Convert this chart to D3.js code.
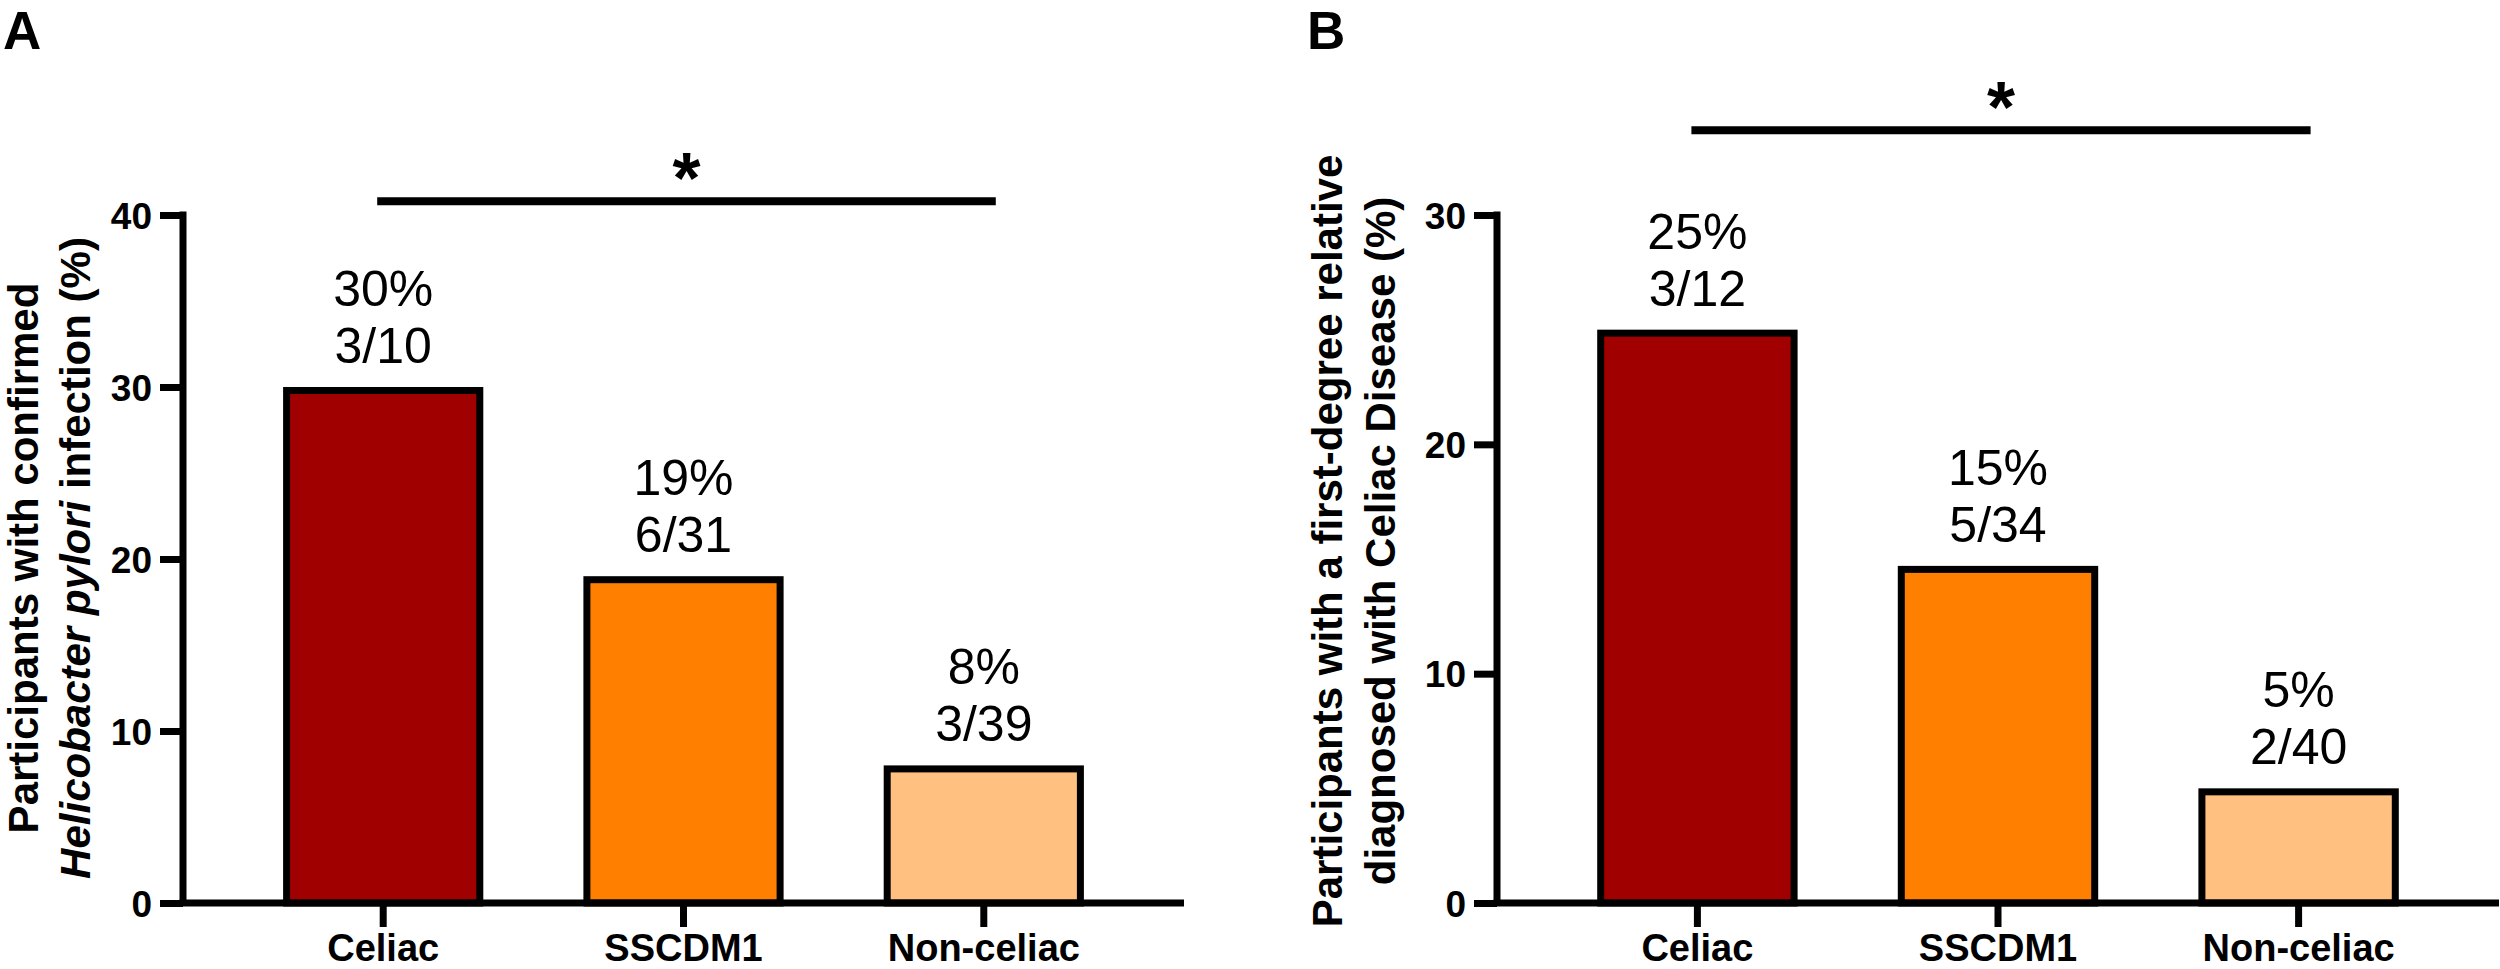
<!DOCTYPE html>
<html>
<head>
<meta charset="utf-8">
<script src="https://cdn.jsdelivr.net/npm/d3@7"></script>
<style>
  html, body { margin: 0; padding: 0; background: #fff; }
  svg text { font-family: 'Liberation Sans', Arial, sans-serif; }
</style>
</head>
<body>
<svg id="chart" width="2500" height="969"></svg>
<script>
// Группы и значения
const groups = ['Celiac', 'SSCDM1', 'Non-celiac']
const barColors = ['#A00000', '#FF8000', '#FFC080']

// Панель A: H. pylori
const pyloriPct = [30, 19, 8]
const pyloriPctLabels = ['30%', '19%', '8%']
const pyloriCounts = ['3/10', '6/31', '3/39']
const pyloriTicks = [0, 10, 20, 30, 40]
const pyloriSig = ['Celiac', 'Non-celiac', '*', 40.8]

// Панель B: родственник первой степени с целиакией
const relativePct = [25, 14.7, 5]
const relativePctLabels = ['25%', '15%', '5%']
const relativeCounts = ['3/12', '5/34', '2/40']
const relativeTicks = [0, 10, 20, 30]
const relativeSig = ['Celiac', 'Non-celiac', '*', 33.7]

const svg = d3.select('#chart')
const SW = 7

const drawPanel = (opt) => {
  const g = svg.append('g')
  const x = d3.scaleBand().domain(groups).range(opt.xRange).padding(1 / 3)
  const y = d3.scaleLinear().domain([0, d3.max(opt.ticks)]).range(opt.yRange)
  const x0 = opt.xRange[0]
  const y0 = y(0)

  // Бары (обводка внутри, верхний край = значение)
  g.selectAll('.bar')
    .data(groups)
    .enter()
    .append('rect')
    .attr('class', 'bar')
    .attr('x', (d) => x(d) + SW / 2)
    .attr('y', (d, i) => y(opt.values[i]) + SW / 2)
    .attr('width', x.bandwidth() - SW)
    .attr('height', (d, i) => y0 - y(opt.values[i]) - SW / 2)
    .attr('fill', (d, i) => barColors[i])
    .attr('stroke', '#000')
    .attr('stroke-width', SW)

  // Ось Y
  const yAxis = g.append('g')
    .attr('transform', `translate(${x0},0)`)
    .call(d3.axisLeft(y).tickValues(opt.ticks).tickSize(23).tickSizeOuter(0).tickPadding(8))
  yAxis.select('.domain').remove()
  yAxis.selectAll('.tick line').attr('stroke', '#000').attr('stroke-width', SW)
  yAxis.selectAll('.tick text')
    .attr('fill', '#000')
    .attr('font-size', '37px')
    .attr('font-weight', 'bold')
    .attr('dy', '0.36em')
  g.append('line')
    .attr('x1', x0).attr('x2', x0)
    .attr('y1', y(d3.max(opt.ticks)) - SW / 2).attr('y2', y0)
    .attr('stroke', '#000').attr('stroke-width', SW)

  // Ось X
  const xAxis = g.append('g')
    .attr('transform', `translate(0,${y0})`)
    .call(d3.axisBottom(x).tickSize(24).tickSizeOuter(0).tickPadding(7))
  xAxis.select('.domain').remove()
  xAxis.selectAll('.tick line').attr('stroke', '#000').attr('stroke-width', SW)
  xAxis.selectAll('.tick text')
    .attr('fill', '#000')
    .attr('font-size', '38px')
    .attr('font-weight', 'bold')
  g.append('line')
    .attr('x1', x0 - SW / 2).attr('x2', opt.xRange[1])
    .attr('y1', y0).attr('y2', y0)
    .attr('stroke', '#000').attr('stroke-width', SW)

  // Подписи над барами
  const lbl = g.selectAll('.lbl')
    .data(groups)
    .enter()
    .append('g')
    .attr('class', 'lbl')
    .attr('transform', (d, i) => `translate(${x(d) + x.bandwidth() / 2},${y(opt.values[i]) - 24})`)
  lbl.append('text')
    .attr('text-anchor', 'middle')
    .attr('font-size', '50px')
    .attr('y', 0)
    .text((d, i) => opt.counts[i])
  lbl.append('text')
    .attr('text-anchor', 'middle')
    .attr('font-size', '50px')
    .attr('y', -57)
    .text((d, i) => opt.pctLabels[i])

  // Линия значимости
  const [a, b, mark, level] = opt.sig
  const sx1 = x(a) + x.bandwidth() / 2 - 6
  const sx2 = x(b) + x.bandwidth() / 2 + 12
  g.append('line')
    .attr('x1', sx1).attr('x2', sx2)
    .attr('y1', y(level)).attr('y2', y(level))
    .attr('stroke', '#000').attr('stroke-width', 8)
  g.append('text')
    .attr('x', (sx1 + sx2) / 2)
    .attr('y', y(level) + 2)
    .attr('text-anchor', 'middle')
    .attr('font-size', '72px')
    .attr('font-weight', 'bold')
    .text(mark)

  // Заголовок оси Y
  const t = g.append('text')
    .attr('transform', `translate(${opt.titleX},${opt.titleY}) rotate(-90)`)
    .attr('text-anchor', 'middle')
    .attr('font-size', '42px')
    .attr('font-weight', 'bold')
  opt.title(t)

  // Буква панели
  svg.append('text')
    .attr('x', opt.letterX)
    .attr('y', 49)
    .attr('font-size', '53px')
    .attr('font-weight', 'bold')
    .text(opt.letter)
}

drawPanel({
  letter: 'A',
  letterX: 3,
  xRange: [183, 1184],
  yRange: [903, 215],
  ticks: pyloriTicks,
  values: pyloriPct,
  pctLabels: pyloriPctLabels,
  counts: pyloriCounts,
  sig: pyloriSig,
  titleX: 38,
  titleY: 558,
  title: (t) => {
    t.append('tspan').attr('x', 0).attr('y', 0).text('Participants with confirmed')
    const l2 = t.append('tspan').attr('x', 0).attr('y', 52)
    l2.append('tspan').attr('font-style', 'italic').text('Helicobacter pylori')
    t.append('tspan').text(' infection (%)')
  },
})

drawPanel({
  letter: 'B',
  letterX: 1307,
  xRange: [1497, 2499],
  yRange: [903, 215],
  ticks: relativeTicks,
  values: relativePct,
  pctLabels: relativePctLabels,
  counts: relativeCounts,
  sig: relativeSig,
  titleX: 1342,
  titleY: 541,
  title: (t) => {
    t.append('tspan').attr('x', 0).attr('y', 0).text('Participants with a first-degree relative')
    t.append('tspan').attr('x', 0).attr('y', 53).text('diagnosed with Celiac Disease (%)')
  },
})
</script>
</body>
</html>
